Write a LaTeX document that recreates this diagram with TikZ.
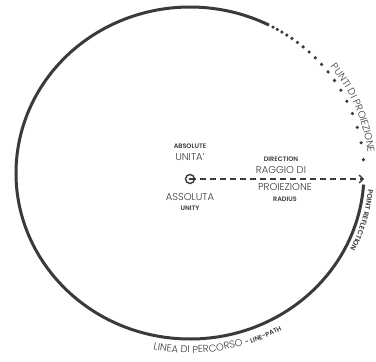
\documentclass[tikz,border=0pt]{standalone}
\usepackage{fontspec}
\setmainfont{Poppins}[UprightFont={* Light}, BoldFont={* SemiBold}]
\usetikzlibrary{arrows.meta,positioning,decorations.text}
\definecolor{ink}{HTML}{3A3A3A}

\begin{document}
\begin{tikzpicture}[
  x=1bp, y=1bp,
  pathline/.style={draw=ink, line width=3bp},
  hub/.style={circle, draw=ink, line width=1.4bp, minimum size=9bp, inner sep=0pt},
  bigtxt/.style={text=ink, inner sep=0pt, font=\fontsize{10}{12}\selectfont},
  smalltxt/.style={text=ink, inner sep=0pt, font=\fontsize{6.5}{8}\selectfont\bfseries},
  ray/.style={draw=ink, line width=1.3bp, dash pattern=on 6bp off 4bp,
    -{Straight Barb[length=4bp,width=8bp]}},
  arctxt/.style={decorate, decoration={text along path, text align=center, text color=ink}}
]
\useasboundingbox (0,0) rectangle (376,362);
\coordinate (C) at (190,189);

% line path
\draw[pathline] (C) ++(-4:174 and 166)
  arc[start angle=-4, end angle=-297, x radius=174, y radius=166];
% projection points
\foreach \k in {1,...,18}{
  \pgfmathsetmacro{\t}{63-17.86*(1.084^\k-1)}
  \fill[ink] (C) ++(\t:174 and 166) circle (1.8);
}

% absolute unity and radius
\node[hub] (origin) at (190,183) {};
\fill[ink] (origin.center) circle (1.3);
\coordinate (tip) at (364,183);
\draw[ray] (origin.center) -- (tip);

\node[bigtxt] (unita) at (190,205) {UNITA'};
\node[smalltxt, above=5bp of unita] (absolute) {ABSOLUTE};
\node[bigtxt] (assoluta) at (190,164.5) {ASSOLUTA};
\node[smalltxt, below=5bp of assoluta] (unity) {UNITY};
\node[bigtxt] (raggio) at (281,191.5) {RAGGIO DI};
\node[smalltxt, above=5bp of raggio] (direction) {DIRECTION};
\node[bigtxt] (proiezione) at (285,174.5) {PROIEZIONE};
\node[smalltxt, below=5bp of proiezione] (radius) {RADIUS};

% labels along the curve
\path[arctxt, decoration={text={|\fontsize{10}{12}\selectfont|PUNTI DI PROIEZIONE}}]
  (C) ++(44:179 and 171) arc[start angle=44, end angle=1, x radius=179, y radius=171];
\path[arctxt, decoration={text={|\fontsize{7}{8}\selectfont\bfseries|POINT REFLECTION}}]
  (C) ++(-3:179 and 171) arc[start angle=-3, end angle=-29, x radius=179, y radius=171];
\path[arctxt, decoration={text={|\fontsize{10}{12}\selectfont|LINEA DI PERCORSO |\fontsize{6.5}{8}\selectfont\bfseries|- LINE-PATH}}]
  (C) ++(-105:188 and 180) arc[start angle=-105, end angle=-57, x radius=188, y radius=180];
\end{tikzpicture}
\end{document}
